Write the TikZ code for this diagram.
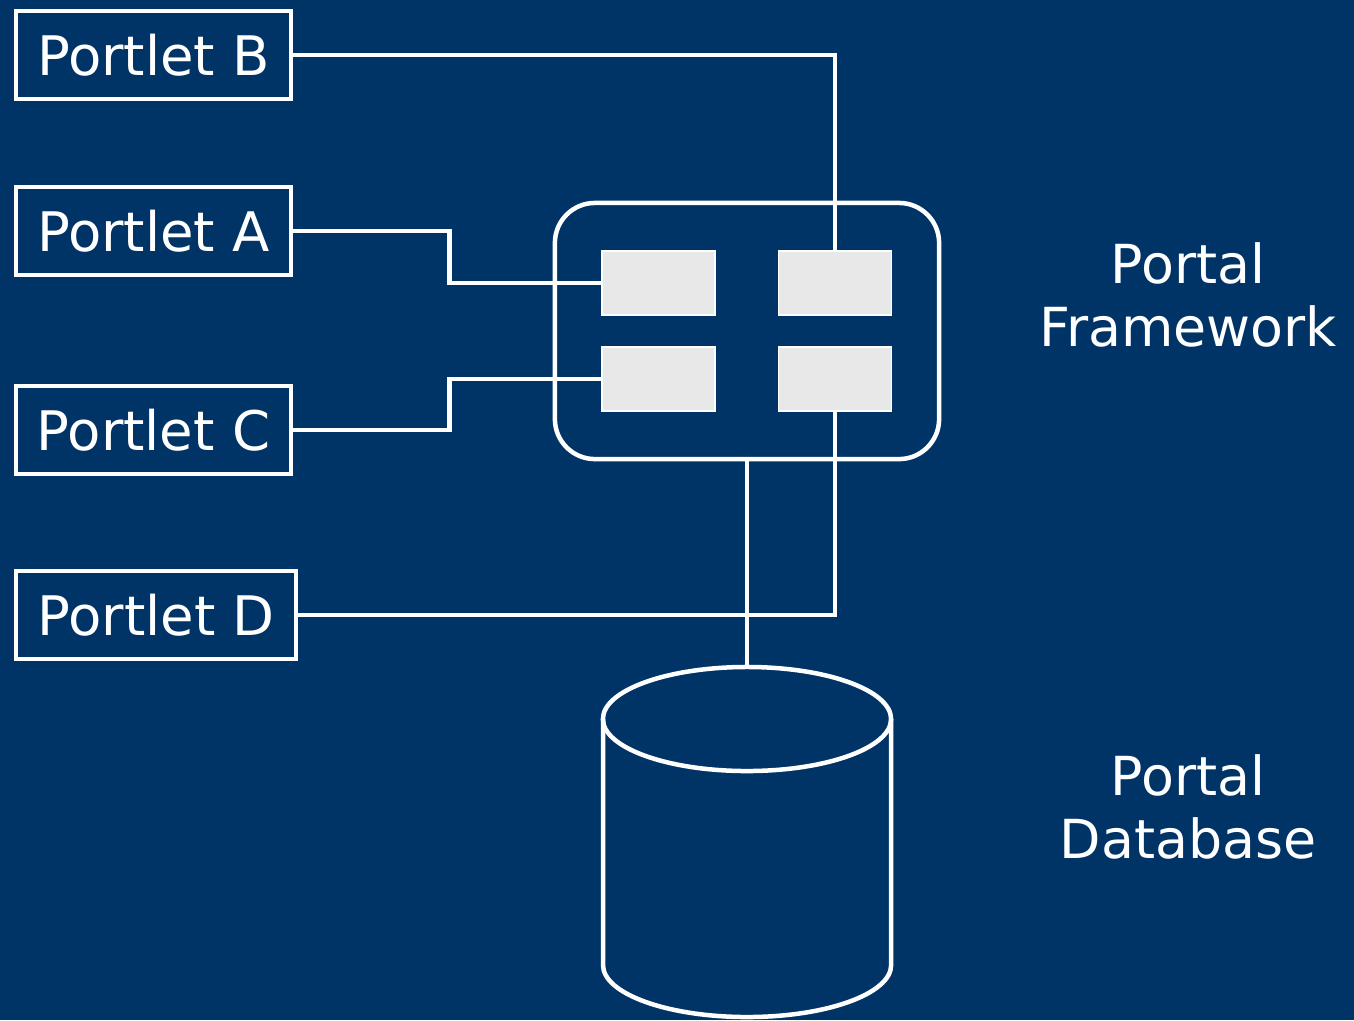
\documentclass[tikz,border=0pt]{standalone}
\usepackage{fontspec}
\setmainfont{DejaVu Sans}
\usetikzlibrary{positioning}
\definecolor{portalblue}{RGB}{0,51,102}
\definecolor{slotgrey}{RGB}{232,232,232}

\begin{document}
\begin{tikzpicture}[x=0.01cm, y=-0.01cm, line width=0.045cm, draw=white,
  portlet/.style={draw=white, text=white, inner sep=0pt,
    font=\fontsize{15.5}{18}\selectfont, minimum width=2.75cm, minimum height=0.88cm},
  slot/.style={draw=white, line width=0.4pt, fill=slotgrey,
    minimum width=1.13cm, minimum height=0.64cm},
  caption/.style={text=white, align=center, font=\fontsize{15.3}{18}\selectfont}]
\fill[portalblue] (0,0) rectangle (1354,1020);
\useasboundingbox (0,0) rectangle (1354,1020);
% portlets on the left
\node[portlet] (pb) at (153.5,55) {Portlet B};
\node[portlet] (pa) at (153.5,231) {Portlet A};
\node[portlet] (pc) at (153.5,430) {Portlet C};
\node[portlet, minimum width=2.8cm] (pd) at (156,615) {Portlet D};
% framework with its four slots
\node[draw=white, rounded corners=0.4cm, minimum width=3.84cm,
  minimum height=2.56cm] (pf) at (747,331) {};
\node[slot] (s1) at (658.5,283) {};
\node[slot] (s2) at (835,283) {};
\node[slot] (s3) at (658.5,379) {};
\node[slot] (s4) at (835,379) {};
\node[caption] (lf) at (1188,295) {Portal\\Framework};
% database
\coordinate (dbtop) at (747,667);
\draw (747,719) ellipse [x radius=1.44cm, y radius=0.52cm];
\draw (603,719) -- (603,965) arc [start angle=180, end angle=360,
  x radius=1.44cm, y radius=0.52cm] -- (891,719);
\node[caption] (ld) at (1188,807) {Portal\\Database};
% connectors
\draw (pb.east) -| (s2.north);
\draw (pa.east) -- ++(156,0) |- (s1.west);
\draw (pc.east) -- ++(156,0) |- (s3.west);
\draw (pd.east) -| (s4.south);
\draw (pf.south) -- (dbtop);
\end{tikzpicture}
\end{document}
